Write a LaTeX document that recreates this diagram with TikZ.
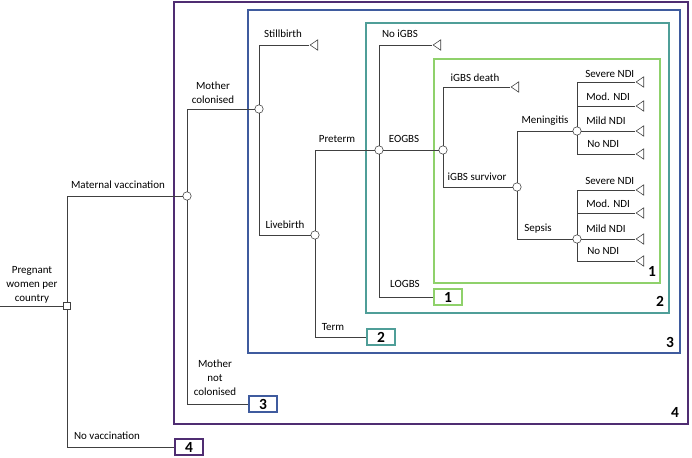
\documentclass[tikz,border=0pt]{standalone}
\usepackage{fontspec}
\setmainfont{Carlito}
\usetikzlibrary{shapes.geometric}

\definecolor{boxone}{HTML}{8FD16B}
\definecolor{boxtwo}{HTML}{4F9E98}
\definecolor{boxthree}{HTML}{3F5B9E}
\definecolor{boxfour}{HTML}{4F2D72}
\definecolor{branchgrey}{HTML}{404040}

\begin{document}
\begin{tikzpicture}[x=0.025cm, y=-0.025cm,
    chance/.style={circle, draw=branchgrey, fill=white, minimum size=0.21cm, inner sep=0pt},
    decision/.style={rectangle, draw=branchgrey, fill=white, minimum size=0.18cm, inner sep=0pt},
    leaf/.style={isosceles triangle, shape border rotate=180, isosceles triangle stretches,
        draw=branchgrey, fill=white, minimum width=0.26cm, minimum height=0.19cm, inner sep=0pt},
    lbl/.style={font=\fontsize{7.8}{10}\selectfont, inner sep=0pt, align=center},
    endbox/.style={draw=#1, line width=1.3pt, fill=white, minimum width=0.72cm,
        minimum height=0.4cm, inner sep=0pt, font=\fontsize{11}{12}\selectfont\bfseries},
    region/.style={draw=#1, line width=1.3pt},
    cornerno/.style={inner sep=0pt, font=\fontsize{11}{12}\selectfont\bfseries},
    branch/.style={draw=branchgrey, line width=0.6pt}]
    \useasboundingbox (0,0) rectangle (692,458);

    % Nested sub-trees
    \draw[region=boxfour] (174,2) rectangle (688,424);
    \draw[region=boxthree] (248,10) rectangle (680,353);
    \draw[region=boxtwo] (366,23) rectangle (669,313);
    \draw[region=boxone] (434,59) rectangle (660,283);
    \node[cornerno] (c4) at (675,412) {4};
    \node[cornerno] (c3) at (670,342) {3};
    \node[cornerno] (c2) at (660,301) {2};
    \node[cornerno] (c1) at (652,271) {1};

    % Nodes
    \coordinate (start) at (0,306);
    \node[decision] (root) at (67,306) {};
    \node[chance] (vacc) at (187,196) {};
    \node[chance] (colon) at (259,109) {};
    \node[chance] (live) at (315,235) {};
    \node[chance] (pre) at (379,150) {};
    \node[chance] (eo) at (443,150) {};
    \node[chance] (surv) at (517,187) {};
    \node[chance] (men) at (577,131) {};
    \node[chance] (sep) at (577,239) {};

    \node[endbox=boxfour] (e4) at (189,447) {4};
    \node[endbox=boxthree] (e3) at (263,404) {3};
    \node[endbox=boxtwo] (e2) at (381,337) {2};
    \node[endbox=boxone] (e1) at (448,297) {1};

    \node[leaf] (still) at (315,45) {};
    \node[leaf] (noigbs) at (438,45) {};
    \node[leaf] (death) at (516,87) {};
    \node[leaf] (msev) at (641,82) {};
    \node[leaf] (mmod) at (641,106) {};
    \node[leaf] (mmild) at (641,131) {};
    \node[leaf] (mno) at (641,154) {};
    \node[leaf] (ssev) at (641,190) {};
    \node[leaf] (smod) at (641,213) {};
    \node[leaf] (smild) at (641,239) {};
    \node[leaf] (sno) at (641,261) {};

    % Branch labels
    \node[lbl] (l-preg) at (32,285) {Pregnant\\women per\\country};
    \node[lbl] (l-vacc) at (118,185) {Maternal vaccination};
    \node[lbl] (l-novacc) at (107,436) {No vaccination};
    \node[lbl] (l-col) at (213,93) {Mother\\colonised};
    \node[lbl] (l-notcol) at (215,378) {Mother\\not\\colonised};
    \node[lbl] (l-still) at (283,34) {Stillbirth};
    \node[lbl] (l-live) at (285,225) {Livebirth};
    \node[lbl] (l-pre) at (337,139) {Preterm};
    \node[lbl] (l-term) at (333,327) {Term};
    \node[lbl] (l-noigbs) at (400,34) {No iGBS};
    \node[lbl] (l-eo) at (404,139) {EOGBS};
    \node[lbl] (l-lo) at (405,284) {LOGBS};
    \node[lbl] (l-death) at (475,78) {iGBS death};
    \node[lbl] (l-surv) at (477,177) {iGBS survivor};
    \node[lbl] (l-men) at (545,121) {Meningitis};
    \node[lbl] (l-sep) at (538,229) {Sepsis};
    \node[lbl, anchor=west] (l-msev) at (585,74) {Severe NDI};
    \node[lbl, anchor=west] (l-mmod) at (586,97) {Mod. NDI};
    \node[lbl, anchor=west] (l-mmild) at (586,121) {Mild NDI};
    \node[lbl, anchor=west] (l-mno) at (587,144) {No NDI};
    \node[lbl, anchor=west] (l-ssev) at (585,181) {Severe NDI};
    \node[lbl, anchor=west] (l-smod) at (586,204) {Mod. NDI};
    \node[lbl, anchor=west] (l-smild) at (586,229) {Mild NDI};
    \node[lbl, anchor=west] (l-sno) at (587,251) {No NDI};

    % Branches
    \draw[branch] (start) -- (root);
    \draw[branch] (root) |- (vacc);
    \draw[branch] (root) |- (e4);
    \draw[branch] (vacc) |- (colon);
    \draw[branch] (vacc) |- (e3);
    \draw[branch] (colon) |- (still.apex);
    \draw[branch] (colon) |- (live);
    \draw[branch] (live) |- (pre);
    \draw[branch] (live) |- (e2);
    \draw[branch] (pre) |- (noigbs.apex);
    \draw[branch] (pre) -- (eo);
    \draw[branch] (pre) |- (e1);
    \draw[branch] (eo) |- (death.apex);
    \draw[branch] (eo) |- (surv);
    \draw[branch] (surv) |- (men);
    \draw[branch] (surv) |- (sep);
    \draw[branch] (men) |- (msev.apex);
    \draw[branch] (men) |- (mmod.apex);
    \draw[branch] (men) -- (mmild.apex);
    \draw[branch] (men) |- (mno.apex);
    \draw[branch] (sep) |- (ssev.apex);
    \draw[branch] (sep) |- (smod.apex);
    \draw[branch] (sep) -- (smild.apex);
    \draw[branch] (sep) |- (sno.apex);
\end{tikzpicture}
\end{document}
